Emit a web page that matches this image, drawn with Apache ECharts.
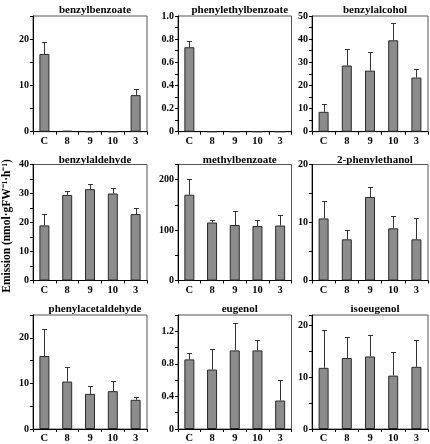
<!DOCTYPE html>
<html>
<head>
<meta charset="utf-8">
<script src="https://cdn.jsdelivr.net/npm/echarts@6/dist/echarts.min.js"></script>
<style>
html,body{margin:0;padding:0;background:#fff;}
#chart{width:430px;height:444px;}
</style>
</head>
<body>
<div id="chart"></div>
<script>
// ---- data ----
const categories = ['C', '8', '9', '10', '3'];
const panelTitles = ['benzylbenzoate', 'phenylethylbenzoate', 'benzylalcohol',
  'benzylaldehyde', 'methylbenzoate', '2-phenylethanol',
  'phenylacetaldehyde', 'eugenol', 'isoeugenol'];

const benzylbenzoate = [16.8, 0.2, 0, 0, 7.9];
const benzylbenzoateErr = [2.6, 0, 0, 0, 1.3];
const phenylethylbenzoate = [0.73, 0, 0, 0, 0];
const phenylethylbenzoateErr = [0.05, 0, 0, 0, 0];
const benzylalcohol = [8.6, 28.6, 26.4, 39.5, 23.4];
const benzylalcoholErr = [3.2, 7.0, 8.1, 7.6, 3.5];
const benzylaldehyde = [19.0, 29.5, 31.5, 30.0, 22.9];
const benzylaldehydeErr = [3.9, 1.4, 1.8, 1.8, 2.0];
const methylbenzoate = [170, 115, 110, 108, 109];
const methylbenzoateErr = [31, 5, 28, 12, 21];
const phenylethanol = [10.7, 7.1, 14.4, 9.0, 7.1];
const phenylethanolErr = [3.0, 1.6, 1.7, 2.1, 3.6];
const phenylacetaldehyde = [16.0, 10.4, 7.7, 8.3, 6.4];
const phenylacetaldehydeErr = [5.9, 3.2, 1.8, 2.2, 0.7];
const eugenol = [0.855, 0.73, 0.965, 0.965, 0.35];
const eugenolErr = [0.08, 0.25, 0.34, 0.13, 0.25];
const isoeugenol = [11.8, 13.7, 14.0, 10.3, 12.0];
const isoeugenolErr = [7.3, 4.0, 4.1, 4.6, 5.2];

// axis scales: max, minor step, labelled step, decimals
const yMax = [25, 1.0, 50, 40, 230, 20, 25, 1.4, 22];
const yMinor = [5, 0.1, 5, 5, 50, 5, 5, 0.2, 5];
const yMajor = [10, 0.2, 10, 10, 100, 10, 10, 0.4, 10];
const yDecimals = [0, 1, 0, 0, 0, 0, 0, 1, 0];

const yTitle = 'Emission (nmol·gFW⁻¹·h⁻¹)';

const means = [benzylbenzoate, phenylethylbenzoate, benzylalcohol, benzylaldehyde,
  methylbenzoate, phenylethanol, phenylacetaldehyde, eugenol, isoeugenol];
const errs = [benzylbenzoateErr, phenylethylbenzoateErr, benzylalcoholErr, benzylaldehydeErr,
  methylbenzoateErr, phenylethanolErr, phenylacetaldehydeErr, eugenolErr, isoeugenolErr];

// ---- layout ----
const colLeft = [33, 178, 312];
const colWidth = [114, 113.5, 116];
const rowTop = [16, 164.5, 315];
const rowHeight = [115.7, 116, 114.5];
const titleTop = [0, 150, 299];

const FONT = '"Liberation Serif", "Times New Roman", serif';

const grids = [], xAxes = [], yAxes = [], series = [], titles = [];
for (let p = 0; p < 9; p++) {
  const r = Math.floor(p / 3), c = p % 3;
  grids.push({left: colLeft[c], top: rowTop[r], width: colWidth[c], height: rowHeight[r],
    show: true, borderColor: '#555', borderWidth: 1, backgroundColor: 'transparent'});
  titles.push({text: panelTitles[p], left: colLeft[c] + colWidth[c] / 2, top: titleTop[r],
    textAlign: 'center',
    textStyle: {fontFamily: FONT, fontWeight: 'bold', fontSize: 11, color: '#000'}});
  xAxes.push({type: 'category', gridIndex: p, data: categories,
    axisLine: {lineStyle: {color: '#000', width: 1}},
    axisTick: {show: true, length: 3, lineStyle: {color: '#000'}},
    axisLabel: {fontFamily: FONT, fontWeight: 'bold', fontSize: 10.5, color: '#000', margin: 4}});
  const major = yMajor[p], dec = yDecimals[p];
  yAxes.push({type: 'value', gridIndex: p, min: 0, max: yMax[p], interval: yMinor[p],
    splitLine: {show: false},
    axisLine: {show: true, lineStyle: {color: '#000', width: 1}},
    axisTick: {show: true, length: 3, lineStyle: {color: '#000'}},
    axisLabel: {fontFamily: FONT, fontWeight: 'bold', fontSize: 10, color: '#000', margin: 4,
      formatter: function (v) {
        const q = v / major;
        if (Math.abs(q - Math.round(q)) > 1e-6) return '';
        if (v === 0) return '0';
        return v.toFixed(dec);
      }}});
  series.push({type: 'bar', xAxisIndex: p, yAxisIndex: p, data: means[p], barWidth: 10,
    itemStyle: {color: '#8c8c8c', borderColor: '#2a2a2a', borderWidth: 1},
    silent: true, animation: false});
  const errData = means[p].map((m, i) => [i, m, m + errs[p][i], errs[p][i]]);
  series.push({type: 'custom', xAxisIndex: p, yAxisIndex: p, data: errData, z: 5,
    animation: false, silent: true,
    renderItem: function (params, api) {
      if (!(api.value(3) > 0)) return null;
      const b = api.coord([api.value(0), api.value(1)]);
      const t = api.coord([api.value(0), api.value(2)]);
      const x = Math.round(b[0]) + 0.5;
      const ty = Math.round(t[1]) + 0.5;
      return {type: 'group', children: [
        {type: 'line', shape: {x1: x, y1: b[1], x2: x, y2: ty},
          style: {stroke: '#333', lineWidth: 1}},
        {type: 'line', shape: {x1: x - 2.5, y1: ty, x2: x + 2.5, y2: ty},
          style: {stroke: '#333', lineWidth: 1}}
      ]};
    }});
}

const chart = echarts.init(document.getElementById('chart'), null, {renderer: 'canvas'});
chart.setOption({
  animation: false,
  title: titles,
  grid: grids,
  xAxis: xAxes,
  yAxis: yAxes,
  series: series,
  graphic: [{type: 'text', rotation: Math.PI / 2, x: 7, y: 226,
    style: {text: yTitle, fontFamily: FONT, fontWeight: 'bold', fontSize: 11.5, fill: '#000',
      textAlign: 'center', textVerticalAlign: 'middle'}}]
});
</script>
</body>
</html>
